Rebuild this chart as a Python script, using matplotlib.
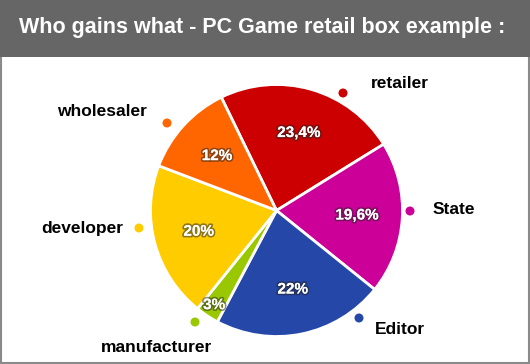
import matplotlib
matplotlib.use("Agg")
import matplotlib.pyplot as plt
import matplotlib.patheffects as pe
from matplotlib.patches import Rectangle
import numpy as np

# ---- data ----
categories = ["retailer", "State", "Editor", "manufacturer", "developer", "wholesaler"]
shares = [23.4, 19.6, 22, 3, 20, 12]
colors = ["#cc0000", "#cc0099", "#2548a8", "#99c800", "#ffcc00", "#ff6600"]
title = "Who gains what - PC Game retail box example :"

# ---- layout (pixel coordinates, y from top) ----
W, H = 530, 364
cx, cy, R = 276.5, 210.5, 126
START = 116
# label text centers and dot positions
label_pos = {
    "retailer": (400, 83), "State": (454, 209), "Editor": (400, 329),
    "manufacturer": (156, 347), "developer": (82, 228), "wholesaler": (102, 112),
}
dot_pos = {
    "retailer": (343, 93), "State": (410, 211), "Editor": (359, 318),
    "manufacturer": (195, 322), "developer": (139, 228), "wholesaler": (167, 123),
}
pct_dist = {"manufacturer": 0.9}

fig = plt.figure(figsize=(W / 100, H / 100), dpi=100)
ax = fig.add_axes([0, 0, 1, 1])
ax.set_axis_off()

def Y(y):
    return H - y

# background + border
ax.add_patch(Rectangle((0.8, 0.8), W - 1.6, H - 1.6, facecolor="white",
                       edgecolor="#8a8a8a", linewidth=1.5, zorder=0))
# title bar
ax.add_patch(Rectangle((0, Y(57)), W, 57, facecolor="#666666", edgecolor="none", zorder=1))
ax.text(262, Y(27), title, ha="center", va="center", color="white",
        fontsize=15.5, fontweight="bold", family="Liberation Sans", zorder=2)

wedges, texts, autotexts = ax.pie(
    shares, colors=colors, startangle=START, counterclock=False,
    center=(cx, Y(cy)), radius=R, autopct="%1.1f", pctdistance=0.64,
    wedgeprops=dict(edgecolor="white", linewidth=2),
    textprops=dict(color="white", fontsize=11, fontweight="bold",
                   family="Liberation Sans"),
    frame=True,
)
for w in wedges:
    w.set_zorder(3)

theta = START
for cat, v, at in zip(categories, shares, autotexts):
    at.set_text(f"{v:g}".replace(".", ",") + "%")
    mid = np.deg2rad(theta - v * 3.6 / 2)
    theta -= v * 3.6
    d = pct_dist.get(cat, 0.64) * R
    at.set_position((cx + d * np.cos(mid), Y(cy) + d * np.sin(mid)))
    at.set_zorder(5)
    at.set_path_effects([pe.withStroke(linewidth=2.5, foreground="#222222", alpha=0.5),
                         pe.Normal()])

for cat, col in zip(categories, colors):
    lx, ly = label_pos[cat]
    ax.text(lx, Y(ly), cat, ha="center", va="center", color="black",
            fontsize=12.5, fontweight="bold", family="Liberation Sans", zorder=6)
    dx, dy = dot_pos[cat]
    ax.scatter([dx], [Y(dy)], s=42, color=col, edgecolors="none", zorder=6)

ax.set_xlim(0, W)
ax.set_ylim(0, H)
ax.set_aspect("auto")
ax.set_axis_off()

fig.savefig("out.png", dpi=100)
